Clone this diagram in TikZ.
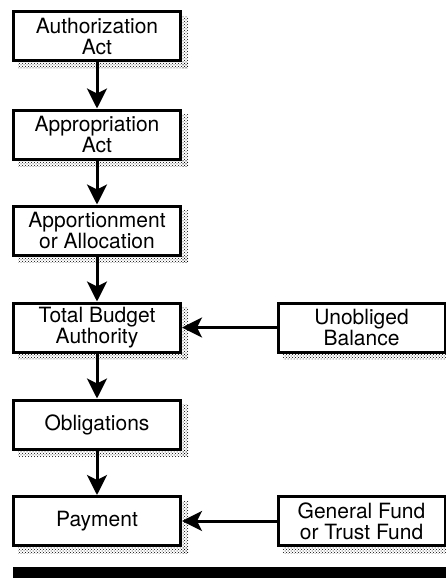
\documentclass[tikz,border=0pt]{standalone}
\usepackage{fontspec}
\setmainfont{TeX Gyre Heros}
\usetikzlibrary{arrows.meta,patterns}
\tikzset{
  stagebox/.style={draw, line width=3pt, fill=white, minimum width=167pt, minimum height=49pt,
    align=center, inner sep=0pt, font=\fontsize{21}{21}\selectfont},
  shade box/.style={pattern=crosshatch dots, pattern color=black},
  flow/.style={line width=3pt, -{Stealth[length=20pt, width=20pt, inset=5pt]}}
}
\begin{document}
\begin{tikzpicture}[x=1pt, y=-1pt]
      \useasboundingbox (0,0) rectangle (446,578);
      % main chain
      \node[stagebox] (auth) at (97,36.5) {Authorization\\Act};
      \node[stagebox] (approp) at (97,134.5) {Appropriation\\Act};
      \node[stagebox] (apport) at (97,230.5) {Apportionment\\or Allocation};
      \node[stagebox] (total) at (97,327.5) {Total Budget\\Authority};
      \node[stagebox] (oblig) at (97,424.5) {Obligations};
      \node[stagebox] (pay) at (97,521) {Payment};
      % side sources
      \node[stagebox] (unob) at (361.5,327.5) {Unobliged\\Balance};
      \node[stagebox] (fund) at (361.5,521) {General Fund\\or Trust Fund};
      % stippled shadow strips on the right and bottom sides
      \foreach \n in {auth,approp,apport,total,oblig,pay,unob,fund} {
        \fill[shade box] ([shift={(0,6)}]\n.north east) rectangle ([shift={(6,6)}]\n.south east);
        \fill[shade box] ([shift={(6,0)}]\n.south west) rectangle ([shift={(6,6)}]\n.south east);
      }
      \draw[flow] (auth) -- (approp);
      \draw[flow] (approp) -- (apport);
      \draw[flow] (apport) -- (total);
      \draw[flow] (total) -- (oblig);
      \draw[flow] (oblig) -- (pay);
      \draw[flow] (unob) -- (total.east);
      \draw[flow] (fund) -- (pay.east);
      \fill (13,567) rectangle (446,578);
    \end{tikzpicture}
\end{document}
